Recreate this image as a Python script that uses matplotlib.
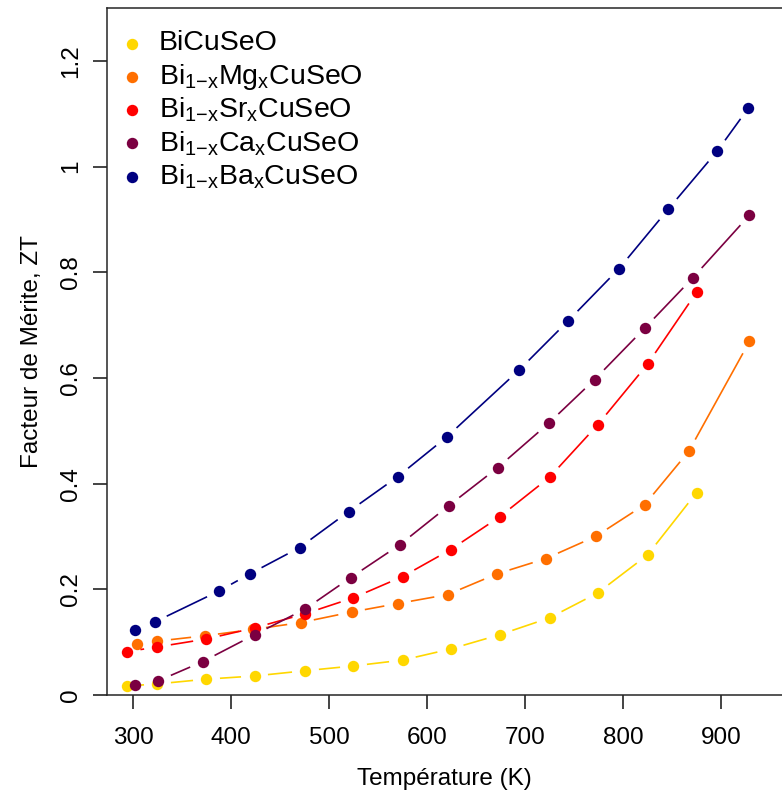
import numpy as np
import matplotlib
matplotlib.use("Agg")
import matplotlib.pyplot as plt

plt.rcParams['font.family'] = ['Liberation Sans', 'DejaVu Sans']
plt.rcParams['mathtext.default'] = 'regular'

# data (temperature in K, figure of merit ZT)
t_bi = [294, 325, 375, 424, 476, 525, 575, 624, 674, 725, 774, 825, 875]
zt_bi = [0.017, 0.021, 0.030, 0.036, 0.046, 0.055, 0.066, 0.087, 0.114, 0.146, 0.193, 0.265, 0.383]

t_mg = [304, 325, 373, 422, 471, 523, 570, 621, 671, 721, 772, 822, 867, 929]
zt_mg = [0.097, 0.102, 0.112, 0.124, 0.137, 0.157, 0.173, 0.190, 0.229, 0.258, 0.300, 0.360, 0.461, 0.669]

t_sr = [294, 325, 375, 424, 476, 525, 575, 624, 674, 725, 774, 825, 875]
zt_sr = [0.082, 0.091, 0.106, 0.127, 0.154, 0.184, 0.224, 0.275, 0.337, 0.412, 0.511, 0.626, 0.762]

t_ca = [302, 326, 371, 424, 476, 522, 572, 622, 672, 724, 771, 822, 871, 929]
zt_ca = [0.019, 0.027, 0.063, 0.114, 0.163, 0.222, 0.284, 0.358, 0.430, 0.514, 0.597, 0.694, 0.789, 0.908]

t_ba = [302, 322, 388, 419, 470, 520, 570, 620, 694, 744, 796, 846, 896, 928]
zt_ba = [0.123, 0.138, 0.197, 0.229, 0.279, 0.347, 0.413, 0.488, 0.615, 0.708, 0.807, 0.919, 1.029, 1.111]

labels = ['BiCuSeO',
          r'Bi$_{1{-}x}$Mg$_x$CuSeO',
          r'Bi$_{1{-}x}$Sr$_x$CuSeO',
          r'Bi$_{1{-}x}$Ca$_x$CuSeO',
          r'Bi$_{1{-}x}$Ba$_x$CuSeO']
colors = ['#FFD700', '#FF6F00', '#FF0000', '#7B0041', '#000080']

xticks = [300, 400, 500, 600, 700, 800, 900]
yticks = [0, 0.2, 0.4, 0.6, 0.8, 1.0, 1.2]
ytick_labels = ['0', '0.2', '0.4', '0.6', '0.8', '1', '1.2']

W, H = 782, 796
fig = plt.figure(figsize=(W / 100, H / 100), dpi=100)
ax = fig.add_axes([107 / W, 1 - 695 / H, (W - 107) / W, (695 - 8) / H])
ax.set_xlim(273.5, 962.2)
ax.set_ylim(0, 1.3)

for side in ['left', 'top', 'bottom']:
    ax.spines[side].set_color('#262626')
    ax.spines[side].set_linewidth(1.1)
ax.spines['right'].set_visible(False)

ax.set_xticks(xticks)
ax.set_yticks(yticks)
ax.set_yticklabels(ytick_labels, rotation=90, va='center')
ax.tick_params(axis='both', length=10, width=1.1, color='#111111', labelsize=17.5)
ax.tick_params(axis='x', pad=13)
ax.tick_params(axis='y', pad=8)
ax.set_xlabel('Température (K)', fontsize=17.5, labelpad=14)
ax.set_ylabel('Facteur de Mérite, ZT', fontsize=17.5, labelpad=12)


def gapped_line(ax, x, y, color, gap=13.5):
    # R type="b": segments stop short of each point
    pts = ax.transData.transform(np.column_stack([x, y]))
    inv = ax.transData.inverted()
    for p, q in zip(pts[:-1], pts[1:]):
        d = q - p
        L = np.hypot(*d)
        if L <= 2 * gap:
            continue
        u = d / L
        seg = inv.transform(np.array([p + u * gap, q - u * gap]))
        ax.plot(seg[:, 0], seg[:, 1], color=color, lw=1.2, solid_capstyle='butt')


series = [(t_bi, zt_bi), (t_mg, zt_mg), (t_sr, zt_sr), (t_ca, zt_ca), (t_ba, zt_ba)]
for (t, zt), c in zip(series, colors):
    gapped_line(ax, t, zt, c)
    ax.plot(t, zt, 'o', color=c, ms=8.2, mec='none')

# legend drawn by hand to match the R layout
for i, (lab, c) in enumerate(zip(labels, colors)):
    yp = 1 - (43.5 + 33.3 * i) / H
    fig.add_artist(plt.Line2D([132 / W], [yp], marker='o', color=c, ms=8.2, mec='none',
                              transform=fig.transFigure))
    fig.text(159 / W, yp, lab, fontsize=20.5, va='center', ha='left')

fig.savefig('out.png', dpi=100)
